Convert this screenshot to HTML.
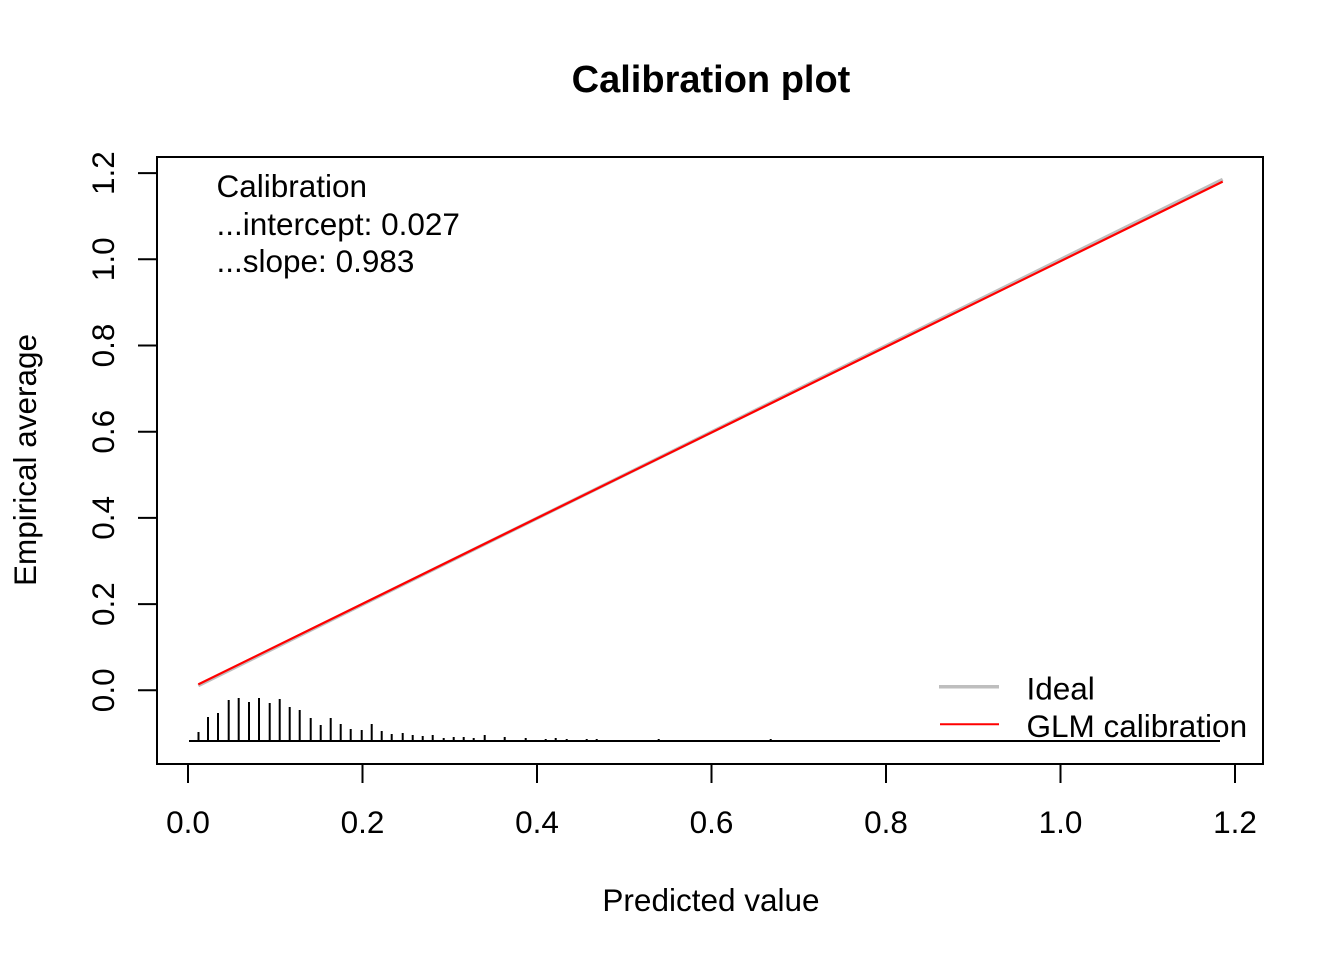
<!DOCTYPE html>
<html>
<head>
<meta charset="utf-8">
<style>
  html, body { margin: 0; padding: 0; background: #ffffff; }
  svg { display: block; }
  text { font-family: "Liberation Sans", Arial, sans-serif; fill: #000; }
</style>
</head>
<body>
<svg width="1344" height="960" viewBox="0 0 1344 960" xmlns="http://www.w3.org/2000/svg">
  <rect x="0" y="0" width="1344" height="960" fill="#ffffff"/>

  <!-- Title -->
  <text x="711" y="92" font-size="38" font-weight="bold" text-anchor="middle">Calibration plot</text>

  <!-- Plot box -->
  <rect x="157" y="157" width="1106" height="607" fill="none" stroke="#000" stroke-width="2"/>

  <!-- X axis ticks -->
  <g stroke="#000" stroke-width="2">
    <line x1="188" y1="764" x2="188" y2="783"/>
    <line x1="362.5" y1="764" x2="362.5" y2="783"/>
    <line x1="537" y1="764" x2="537" y2="783"/>
    <line x1="711.5" y1="764" x2="711.5" y2="783"/>
    <line x1="886" y1="764" x2="886" y2="783"/>
    <line x1="1060.5" y1="764" x2="1060.5" y2="783"/>
    <line x1="1235" y1="764" x2="1235" y2="783"/>
  </g>
  <g font-size="31.5" text-anchor="middle">
    <text x="188" y="833">0.0</text>
    <text x="362.5" y="833">0.2</text>
    <text x="537" y="833">0.4</text>
    <text x="711.5" y="833">0.6</text>
    <text x="886" y="833">0.8</text>
    <text x="1060.5" y="833">1.0</text>
    <text x="1235" y="833">1.2</text>
  </g>

  <!-- Y axis ticks -->
  <g stroke="#000" stroke-width="2">
    <line x1="138" y1="690.3" x2="157" y2="690.3"/>
    <line x1="138" y1="604.1" x2="157" y2="604.1"/>
    <line x1="138" y1="517.9" x2="157" y2="517.9"/>
    <line x1="138" y1="431.7" x2="157" y2="431.7"/>
    <line x1="138" y1="345.5" x2="157" y2="345.5"/>
    <line x1="138" y1="259.3" x2="157" y2="259.3"/>
    <line x1="138" y1="173.1" x2="157" y2="173.1"/>
  </g>
  <g font-size="31.5" text-anchor="middle">
    <text transform="translate(114,690.3) rotate(-90)">0.0</text>
    <text transform="translate(114,604.1) rotate(-90)">0.2</text>
    <text transform="translate(114,517.9) rotate(-90)">0.4</text>
    <text transform="translate(114,431.7) rotate(-90)">0.6</text>
    <text transform="translate(114,345.5) rotate(-90)">0.8</text>
    <text transform="translate(114,259.3) rotate(-90)">1.0</text>
    <text transform="translate(114,173.1) rotate(-90)">1.2</text>
  </g>

  <!-- Axis titles -->
  <text x="711" y="911" font-size="31.5" text-anchor="middle">Predicted value</text>
  <text transform="translate(36,460) rotate(-90)" font-size="31.5" text-anchor="middle">Empirical average</text>

  <!-- Annotation -->
  <g font-size="31.5">
    <text x="216.5" y="197">Calibration</text>
    <text x="216.5" y="235">...intercept: 0.027</text>
    <text x="216.5" y="272">...slope: 0.983</text>
  </g>

  <!-- Lines -->
  <line x1="198.3" y1="685.6" x2="1222.7" y2="179.4" stroke="#BEBEBE" stroke-width="3.5"/>
  <line x1="198.3" y1="684.4" x2="1222.7" y2="181.6" stroke="#FF0000" stroke-width="2.2"/>

  <!-- Histogram (spike) -->
  <line x1="189" y1="741" x2="1220" y2="741" stroke="#000" stroke-width="2"/>
  <g stroke="#000" stroke-width="2">
    <line x1="198.5" y1="741" x2="198.5" y2="732"/>
    <line x1="208" y1="741" x2="208" y2="717"/>
    <line x1="218" y1="741" x2="218" y2="713"/>
    <line x1="228.7" y1="741" x2="228.7" y2="700"/>
    <line x1="238.7" y1="741" x2="238.7" y2="698"/>
    <line x1="249" y1="741" x2="249" y2="702"/>
    <line x1="259" y1="741" x2="259" y2="698"/>
    <line x1="269.7" y1="741" x2="269.7" y2="703"/>
    <line x1="279.7" y1="741" x2="279.7" y2="699"/>
    <line x1="289.7" y1="741" x2="289.7" y2="707"/>
    <line x1="299.7" y1="741" x2="299.7" y2="710"/>
    <line x1="310.7" y1="741" x2="310.7" y2="718"/>
    <line x1="320.7" y1="741" x2="320.7" y2="725"/>
    <line x1="330.7" y1="741" x2="330.7" y2="718"/>
    <line x1="340.7" y1="741" x2="340.7" y2="724"/>
    <line x1="350.7" y1="741" x2="350.7" y2="729"/>
    <line x1="361.7" y1="741" x2="361.7" y2="730"/>
    <line x1="371.7" y1="741" x2="371.7" y2="724"/>
    <line x1="381.7" y1="741" x2="381.7" y2="731"/>
    <line x1="391.7" y1="741" x2="391.7" y2="734"/>
    <line x1="402.7" y1="741" x2="402.7" y2="733"/>
    <line x1="412.7" y1="741" x2="412.7" y2="735"/>
    <line x1="422.7" y1="741" x2="422.7" y2="736"/>
    <line x1="432.7" y1="741" x2="432.7" y2="735"/>
    <line x1="443.7" y1="741" x2="443.7" y2="738"/>
    <line x1="453.7" y1="741" x2="453.7" y2="737"/>
    <line x1="463.7" y1="741" x2="463.7" y2="737"/>
    <line x1="473.7" y1="741" x2="473.7" y2="738"/>
    <line x1="484.7" y1="741" x2="484.7" y2="735"/>
    <line x1="504.7" y1="741" x2="504.7" y2="737"/>
    <line x1="525.7" y1="741" x2="525.7" y2="738"/>
    <line x1="545.7" y1="741" x2="545.7" y2="739"/>
    <line x1="555.7" y1="741" x2="555.7" y2="738"/>
    <line x1="566.7" y1="741" x2="566.7" y2="739"/>
    <line x1="586.7" y1="741" x2="586.7" y2="739"/>
    <line x1="596.7" y1="741" x2="596.7" y2="739"/>
    <line x1="658.7" y1="741" x2="658.7" y2="739"/>
    <line x1="770.7" y1="741" x2="770.7" y2="739"/>
  </g>

  <!-- Legend -->
  <line x1="939" y1="686.7" x2="999" y2="686.7" stroke="#BEBEBE" stroke-width="3.5"/>
  <line x1="940" y1="724.3" x2="999" y2="724.3" stroke="#FF0000" stroke-width="2"/>
  <g font-size="31.5">
    <text x="1026.5" y="699.5">Ideal</text>
    <text x="1026.5" y="737">GLM calibration</text>
  </g>
</svg>
</body>
</html>
